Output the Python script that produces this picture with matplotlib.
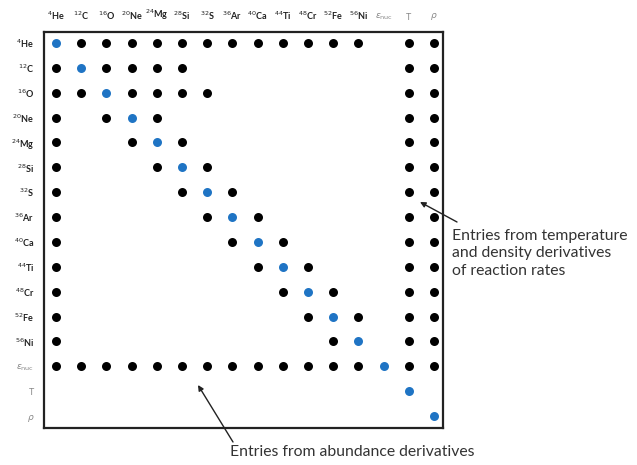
import matplotlib
matplotlib.use("Agg")
import matplotlib.pyplot as plt

# Matrix labels (rows and columns share the same ordering)
species = ["4He", "12C", "16O", "20Ne", "24Mg", "28Si", "32S",
           "36Ar", "40Ca", "44Ti", "48Cr", "52Fe", "56Ni"]
extra = ["enuc", "T", "rho"]

# Non-zero off-diagonal entries per row (column indices)
row_entries = [
    list(range(1, 13)) + [14, 15],          # 4He
    [0, 2, 3, 4, 5, 14, 15],                # 12C
    [0, 1, 3, 4, 5, 6, 14, 15],             # 16O
    [0, 2, 4, 14, 15],                      # 20Ne
    [0, 3, 5, 14, 15],                      # 24Mg
    [0, 4, 6, 14, 15],                      # 28Si
    [0, 5, 7, 14, 15],                      # 32S
    [0, 6, 8, 14, 15],                      # 36Ar
    [0, 7, 9, 14, 15],                      # 40Ca
    [0, 8, 10, 14, 15],                     # 44Ti
    [0, 9, 11, 14, 15],                     # 48Cr
    [0, 10, 12, 14, 15],                    # 52Fe
    [0, 11, 14, 15],                        # 56Ni
    list(range(0, 13)) + [14, 15],          # enuc
    [],                                     # T
    [],                                     # rho
]


def tex_label(name):
    if name == "enuc":
        return r"$\epsilon_{\rm nuc}$"
    if name == "T":
        return "T"
    if name == "rho":
        return r"$\rho$"
    mass = "".join(c for c in name if c.isdigit())
    elem = "".join(c for c in name if c.isalpha())
    return r"$^{%s}$%s" % (mass, elem)


labels = [tex_label(s) for s in species + extra]
n = len(labels)

fig = plt.figure(figsize=(6.37, 4.65), dpi=100)
plt.rcParams["font.family"] = ["Lato", "DejaVu Sans"]
ax = fig.add_axes([44 / 637, 37 / 465, 399 / 637, 396 / 465])

black_x, black_y = [], []
for r, cols in enumerate(row_entries):
    for c in cols:
        black_x.append(c)
        black_y.append(r)
diag = list(range(n))

ax.scatter(black_x, black_y, s=42, color="black", zorder=3, linewidths=0)
ax.scatter(diag, diag, s=42, color="#1f74c4", zorder=3, linewidths=0)

ax.set_xlim(-0.48, n - 1 + 0.36)
ax.set_ylim(n - 1 + 0.48, -0.44)

ax.xaxis.tick_top()
ax.set_xticks(range(n))
ax.set_xticklabels(labels, fontsize=6.5)
ax.set_yticks(range(n))
ax.set_yticklabels(labels, fontsize=6.5)
ax.tick_params(length=0, pad=7)
for i, (xl, yl) in enumerate(zip(ax.get_xticklabels(), ax.get_yticklabels())):
    col = "#222222" if i < len(species) else "#888888"
    weight = "bold" if i < len(species) else "normal"
    xl.set_color(col)
    yl.set_color(col)
    xl.set_fontweight(weight)
    yl.set_fontweight(weight)

for sp in ax.spines.values():
    sp.set_linewidth(1.6)
    sp.set_color("#222222")

# Annotations
arrow = dict(arrowstyle="-|>", lw=1.0, color="#222222", mutation_scale=8,
             shrinkA=0, shrinkB=0)
fig.add_artist(matplotlib.patches.FancyArrowPatch(
    (457, 465 - 222), (420, 465 - 202), transform=None, **arrow))
fig.text(452 / 637, 1 - 229 / 465,
         "Entries from temperature\nand density derivatives\nof reaction rates",
         fontsize=11.3, color="#333333", va="top", ha="left", linespacing=1.3)

fig.add_artist(matplotlib.patches.FancyArrowPatch(
    (233, 465 - 442), (198, 465 - 385), transform=None, **arrow))
fig.text(230 / 637, 1 - 452 / 465, "Entries from abundance derivatives",
         fontsize=11.3, color="#333333", va="center", ha="left")

fig.savefig("out.png", dpi=100)
